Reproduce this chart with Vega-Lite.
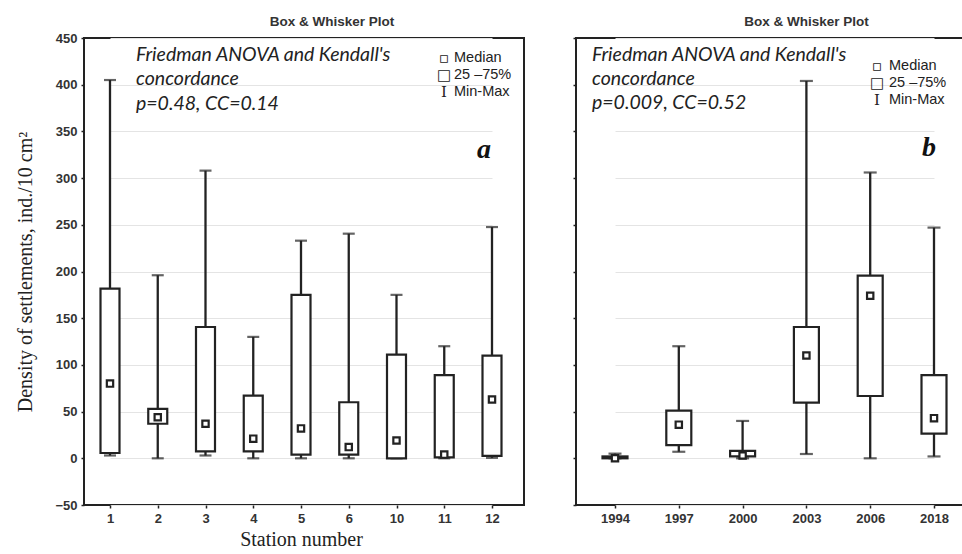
{
  "$schema": "https://vega.github.io/schema/vega-lite/v6.json",
  "background": "white",
  "padding": {"left": 14, "top": 13, "right": 0, "bottom": 0},
  "spacing": 46,
  "datasets": {
    "stations": [
      {"station": 1, "min": 3, "q1": 5.7, "median": 80, "q3": 181.7, "max": 405},
      {"station": 2, "min": 0, "q1": 37, "median": 44, "q3": 53, "max": 196},
      {"station": 3, "min": 3, "q1": 7.5, "median": 37, "q3": 140.6, "max": 308},
      {"station": 4, "min": 0, "q1": 7.5, "median": 21, "q3": 67, "max": 130},
      {"station": 5, "min": 0, "q1": 4, "median": 32, "q3": 175, "max": 233},
      {"station": 6, "min": 0, "q1": 4, "median": 12, "q3": 60, "max": 240.5},
      {"station": 10, "min": 0, "q1": 0, "median": 19, "q3": 111, "max": 175},
      {"station": 11, "min": 0, "q1": 1, "median": 4, "q3": 89, "max": 120},
      {"station": 12, "min": 0.5, "q1": 2.5, "median": 63, "q3": 110, "max": 247.6}
    ],
    "years": [
      {"year": 1994, "min": 0, "q1": 0, "median": 0, "q3": 2, "max": 5},
      {"year": 1997, "min": 7, "q1": 14, "median": 36, "q3": 51, "max": 120},
      {"year": 2000, "min": 0, "q1": 2, "median": 3, "q3": 8, "max": 40},
      {"year": 2003, "min": 4.6, "q1": 59.6, "median": 110, "q3": 140.6, "max": 404},
      {"year": 2006, "min": 0, "q1": 66.7, "median": 174, "q3": 195.6, "max": 306},
      {"year": 2018, "min": 2, "q1": 26.4, "median": 43, "q3": 89, "max": 247}
    ]
  },
  "config": {
    "view": {"stroke": "#222", "strokeWidth": 2},
    "axis": {
      "labelFont": "Liberation Sans",
      "labelFontSize": 13,
      "labelFontWeight": "bold",
      "labelColor": "#333",
      "domain": false,
      "tickColor": "#222",
      "tickSize": 3,
      "tickWidth": 1.5,
      "labelPadding": 4,
      "gridColor": "#e4e4e4",
      "gridWidth": 1
    }
  },
  "hconcat": [
    {
      "width": 440,
      "height": 467,
      "title": {"text": "Box & Whisker Plot", "font": "Liberation Sans", "fontSize": 13.5, "fontWeight": "bold", "color": "#333", "dx": 28, "offset": 4},
      "data": {"name": "stations"},
      "encoding": {
        "x": {
          "field": "station", "type": "ordinal",
          "scale": {"type": "point", "range": [26, 408], "padding": 0},
          "axis": {"title": "Station number", "titleFont": "Liberation Serif", "titleFontSize": 20, "titleFontWeight": "normal", "titleColor": "#222", "titlePadding": 4, "labelAngle": 0, "grid": false}
        }
      },
      "layer": [
        {
          "mark": {"type": "rule", "color": "#222", "strokeWidth": 2.3},
          "encoding": {
            "y": {"field": "min", "type": "quantitative",
              "scale": {"domain": [-50, 450], "nice": false, "zero": false},
              "axis": {"title": "Density of settlements, ind./10 cm²", "titleFont": "Liberation Serif", "titleFontSize": 20, "titleFontWeight": "normal", "titleColor": "#222", "titlePadding": 19, "values": [-50, 0, 50, 100, 150, 200, 250, 300, 350, 400, 450], "grid": true}},
            "y2": {"field": "max"}
          }
        },
        {
          "mark": {"type": "tick", "color": "#222", "thickness": 2.2, "size": 12},
          "encoding": {"y": {"field": "max", "type": "quantitative"}}
        },
        {
          "mark": {"type": "tick", "color": "#222", "thickness": 2.2, "size": 12},
          "encoding": {"y": {"field": "min", "type": "quantitative"}}
        },
        {
          "mark": {"type": "bar", "fill": "white", "stroke": "#222", "strokeWidth": 2.2, "size": 19},
          "encoding": {"y": {"field": "q1", "type": "quantitative"}, "y2": {"field": "q3"}}
        },
        {
          "mark": {"type": "point", "shape": "square", "size": 40, "filled": false, "fill": "white", "fillOpacity": 1, "stroke": "#222", "strokeWidth": 2.2, "opacity": 1},
          "encoding": {"y": {"field": "median", "type": "quantitative"}}
        },
        {
          "data": {"values": [{"note": "Friedman ANOVA and Kendall's\nconcordance\np=0.48, CC=0.14"}]},
          "mark": {"type": "text", "align": "left", "baseline": "top", "dx": 26, "font": "Lato", "fontStyle": "italic", "fontSize": 19.5, "lineHeight": 24.5, "lineBreak": "\n", "color": "#222"},
          "encoding": {"x": {"datum": 1}, "y": {"datum": 441.5}, "text": {"field": "note"}}
        },
        {
          "data": {"values": [{"sym": "▫\n□\nI"}]},
          "mark": {"type": "text", "align": "center", "baseline": "top", "dx": -48, "font": "DejaVu Serif", "fontSize": 15, "lineHeight": 17, "lineBreak": "\n", "color": "#222"},
          "encoding": {"x": {"datum": 12}, "y": {"datum": 436}, "text": {"field": "sym"}}
        },
        {
          "data": {"values": [{"lab": "Median\n25 –75%\nMin-Max"}]},
          "mark": {"type": "text", "align": "left", "baseline": "top", "dx": -38, "font": "Liberation Sans", "fontSize": 14.5, "lineHeight": 17, "lineBreak": "\n", "color": "#222"},
          "encoding": {"x": {"datum": 12}, "y": {"datum": 436}, "text": {"field": "lab"}}
        },
        {
          "data": {"values": [{"letter": "a"}]},
          "mark": {"type": "text", "align": "center", "baseline": "middle", "dx": -8, "font": "Liberation Serif", "fontStyle": "italic", "fontWeight": "bold", "fontSize": 28, "color": "#111"},
          "encoding": {"x": {"datum": 12}, "y": {"datum": 330}, "text": {"field": "letter"}}
        }
      ]
    },
    {
      "width": 397,
      "height": 467,
      "title": {"text": "Box & Whisker Plot", "font": "Liberation Sans", "fontSize": 13.5, "fontWeight": "bold", "color": "#333", "dx": 32, "offset": 9},
      "data": {"name": "years"},
      "encoding": {
        "x": {
          "field": "year", "type": "ordinal",
          "scale": {"type": "point", "range": [39, 358], "padding": 0},
          "axis": {"title": null, "labelAngle": 0, "grid": false}
        }
      },
      "layer": [
        {
          "mark": {"type": "rule", "color": "#222", "strokeWidth": 2.3},
          "encoding": {
            "y": {"field": "min", "type": "quantitative",
              "scale": {"domain": [-50, 450], "nice": false, "zero": false},
              "axis": {"title": null, "labels": false, "values": [-50, 0, 50, 100, 150, 200, 250, 300, 350, 400, 450], "grid": true}},
            "y2": {"field": "max"}
          }
        },
        {
          "mark": {"type": "tick", "color": "#222", "thickness": 2.2, "size": 13},
          "encoding": {"y": {"field": "max", "type": "quantitative"}}
        },
        {
          "mark": {"type": "tick", "color": "#222", "thickness": 2.2, "size": 13},
          "encoding": {"y": {"field": "min", "type": "quantitative"}}
        },
        {
          "mark": {"type": "bar", "fill": "white", "stroke": "#222", "strokeWidth": 2.2, "size": 25},
          "encoding": {"y": {"field": "q1", "type": "quantitative"}, "y2": {"field": "q3"}}
        },
        {
          "mark": {"type": "point", "shape": "square", "size": 40, "filled": false, "fill": "white", "fillOpacity": 1, "stroke": "#222", "strokeWidth": 2.2, "opacity": 1},
          "encoding": {"y": {"field": "median", "type": "quantitative"}}
        },
        {
          "data": {"values": [{"note": "Friedman ANOVA and Kendall's\nconcordance\np=0.009, CC=0.52"}]},
          "mark": {"type": "text", "align": "left", "baseline": "top", "dx": -23, "font": "Lato", "fontStyle": "italic", "fontSize": 19.5, "lineHeight": 24, "lineBreak": "\n", "color": "#222"},
          "encoding": {"x": {"datum": 1994}, "y": {"datum": 441.5}, "text": {"field": "note"}}
        },
        {
          "data": {"values": [{"sym": "▫\n□\nI"}]},
          "mark": {"type": "text", "align": "center", "baseline": "top", "dx": -57, "font": "DejaVu Serif", "fontSize": 15, "lineHeight": 17, "lineBreak": "\n", "color": "#222"},
          "encoding": {"x": {"datum": 2018}, "y": {"datum": 428}, "text": {"field": "sym"}}
        },
        {
          "data": {"values": [{"lab": "Median\n25 –75%\nMin-Max"}]},
          "mark": {"type": "text", "align": "left", "baseline": "top", "dx": -45, "font": "Liberation Sans", "fontSize": 14.5, "lineHeight": 17, "lineBreak": "\n", "color": "#222"},
          "encoding": {"x": {"datum": 2018}, "y": {"datum": 428}, "text": {"field": "lab"}}
        },
        {
          "data": {"values": [{"letter": "b"}]},
          "mark": {"type": "text", "align": "center", "baseline": "middle", "dx": -5, "font": "Liberation Serif", "fontStyle": "italic", "fontWeight": "bold", "fontSize": 28, "color": "#111"},
          "encoding": {"x": {"datum": 2018}, "y": {"datum": 332}, "text": {"field": "letter"}}
        }
      ]
    }
  ]
}
